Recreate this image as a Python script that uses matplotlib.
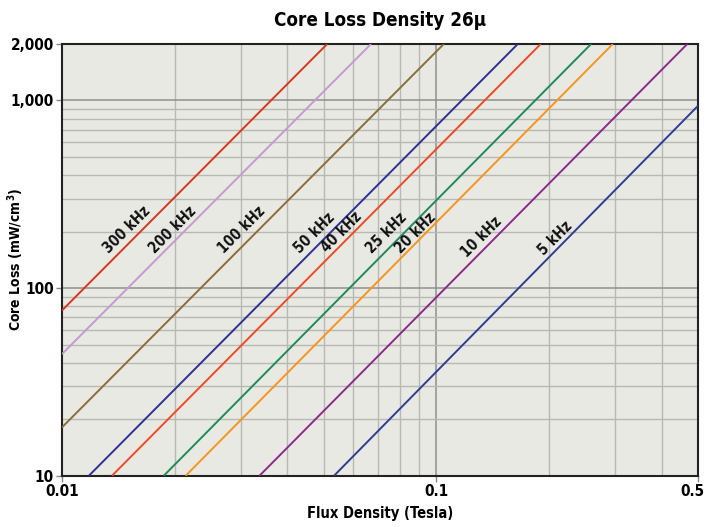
import matplotlib
matplotlib.use("Agg")
import matplotlib.pyplot as plt
import matplotlib.transforms as mtransforms
from matplotlib.ticker import FixedLocator, NullFormatter

plt.rcParams['font.family'] = ['DejaVu Sans']
plt.rcParams['font.stretch'] = 'condensed'
plt.rcParams['font.weight'] = 'bold'
plt.rcParams['axes.titleweight'] = 'bold'
plt.rcParams['axes.labelweight'] = 'bold'

# frequency labels and line colours
labels = ["300 kHz", "200 kHz", "100 kHz", "50 kHz", "40 kHz",
          "25 kHz", "20 kHz", "10 kHz", "5 kHz"]
colors = ["#d4381e", "#c49ad0", "#8a6d38", "#2e3192", "#ef4a23",
          "#1f8a5a", "#f7941d", "#8b2a8b", "#2e3d92"]

# end points of each line (flux in Tesla, loss in mW/cm^3)
flux_start = [0.01, 0.01, 0.01, 0.0118, 0.0136, 0.0187, 0.0214, 0.0337, 0.0533]
loss_start = [76, 44.5, 18.1, 10, 10, 10, 10, 10, 10]
flux_end = [0.0511, 0.0669, 0.1047, 0.165, 0.190, 0.259, 0.296, 0.468, 0.5]
loss_end = [2000, 2000, 2000, 2000, 2000, 2000, 2000, 2000, 937]

# label positions (text centres)
label_flux = [0.01487, 0.01975, 0.03016, 0.04718, 0.05598, 0.07379, 0.0882, 0.1322, 0.208]
label_loss = [204, 204, 204, 197, 199, 197, 197, 188, 185]

fig = plt.figure(figsize=(7.06, 5.27), dpi=100)
ax = fig.add_axes([0.0878, 0.0973, 0.9009, 0.8192])
ax.set_facecolor("#e9e9e4")

for i in range(len(labels)):
    ax.plot([flux_start[i], flux_end[i]], [loss_start[i], loss_end[i]],
            color=colors[i], lw=1.4, solid_capstyle="butt", zorder=3)
    ax.text(label_flux[i], label_loss[i], labels[i], rotation=45,
            ha="center", va="center", fontsize=10.5, zorder=4, color="#111111")

ax.set_xscale("log")
ax.set_yscale("log")
ax.set_xlim(0.01, 0.5)
ax.set_ylim(10, 2000)

ax.xaxis.set_major_locator(FixedLocator([0.01, 0.1, 0.5]))
ax.set_xticklabels(["0.01", "0.1", "0.5"])
ax.yaxis.set_major_locator(FixedLocator([10, 100, 1000, 2000]))
ax.set_yticklabels(["10", "100", "1,000", "2,000"])
ax.xaxis.set_minor_locator(FixedLocator(
    [k * 0.01 for k in range(2, 10)] + [k * 0.1 for k in range(2, 5)]))
ax.yaxis.set_minor_locator(FixedLocator(
    [k * 10 for k in range(2, 10)] + [k * 100 for k in range(2, 10)]))
ax.xaxis.set_minor_formatter(NullFormatter())
ax.yaxis.set_minor_formatter(NullFormatter())

ax.grid(which="major", color="#8f8f8f", lw=1.1)
ax.grid(which="minor", color="#b8b8b4", lw=1.0)
ax.tick_params(which="minor", length=0)
ax.tick_params(which="major", length=4, width=1, color="#888888",
               labelsize=11, pad=2)
for s in ax.spines.values():
    s.set_linewidth(1.5)
    s.set_color("#222222")

# keep the last x tick label inside the figure
last = ax.get_xticklabels()[-1]
last.set_transform(last.get_transform() +
                   mtransforms.ScaledTranslation(-4 / 72, 0, fig.dpi_scale_trans))

ax.set_title("Core Loss Density 26\u03bc", fontsize=13.5, pad=13)
ax.set_xlabel("Flux Density (Tesla)", fontsize=10.5, labelpad=5)
ax.set_ylabel("Core Loss (mW/cm$^3$)", fontsize=10)
ax.yaxis.set_label_coords(-0.056, 0.5)

fig.savefig("out.png", dpi=100)
